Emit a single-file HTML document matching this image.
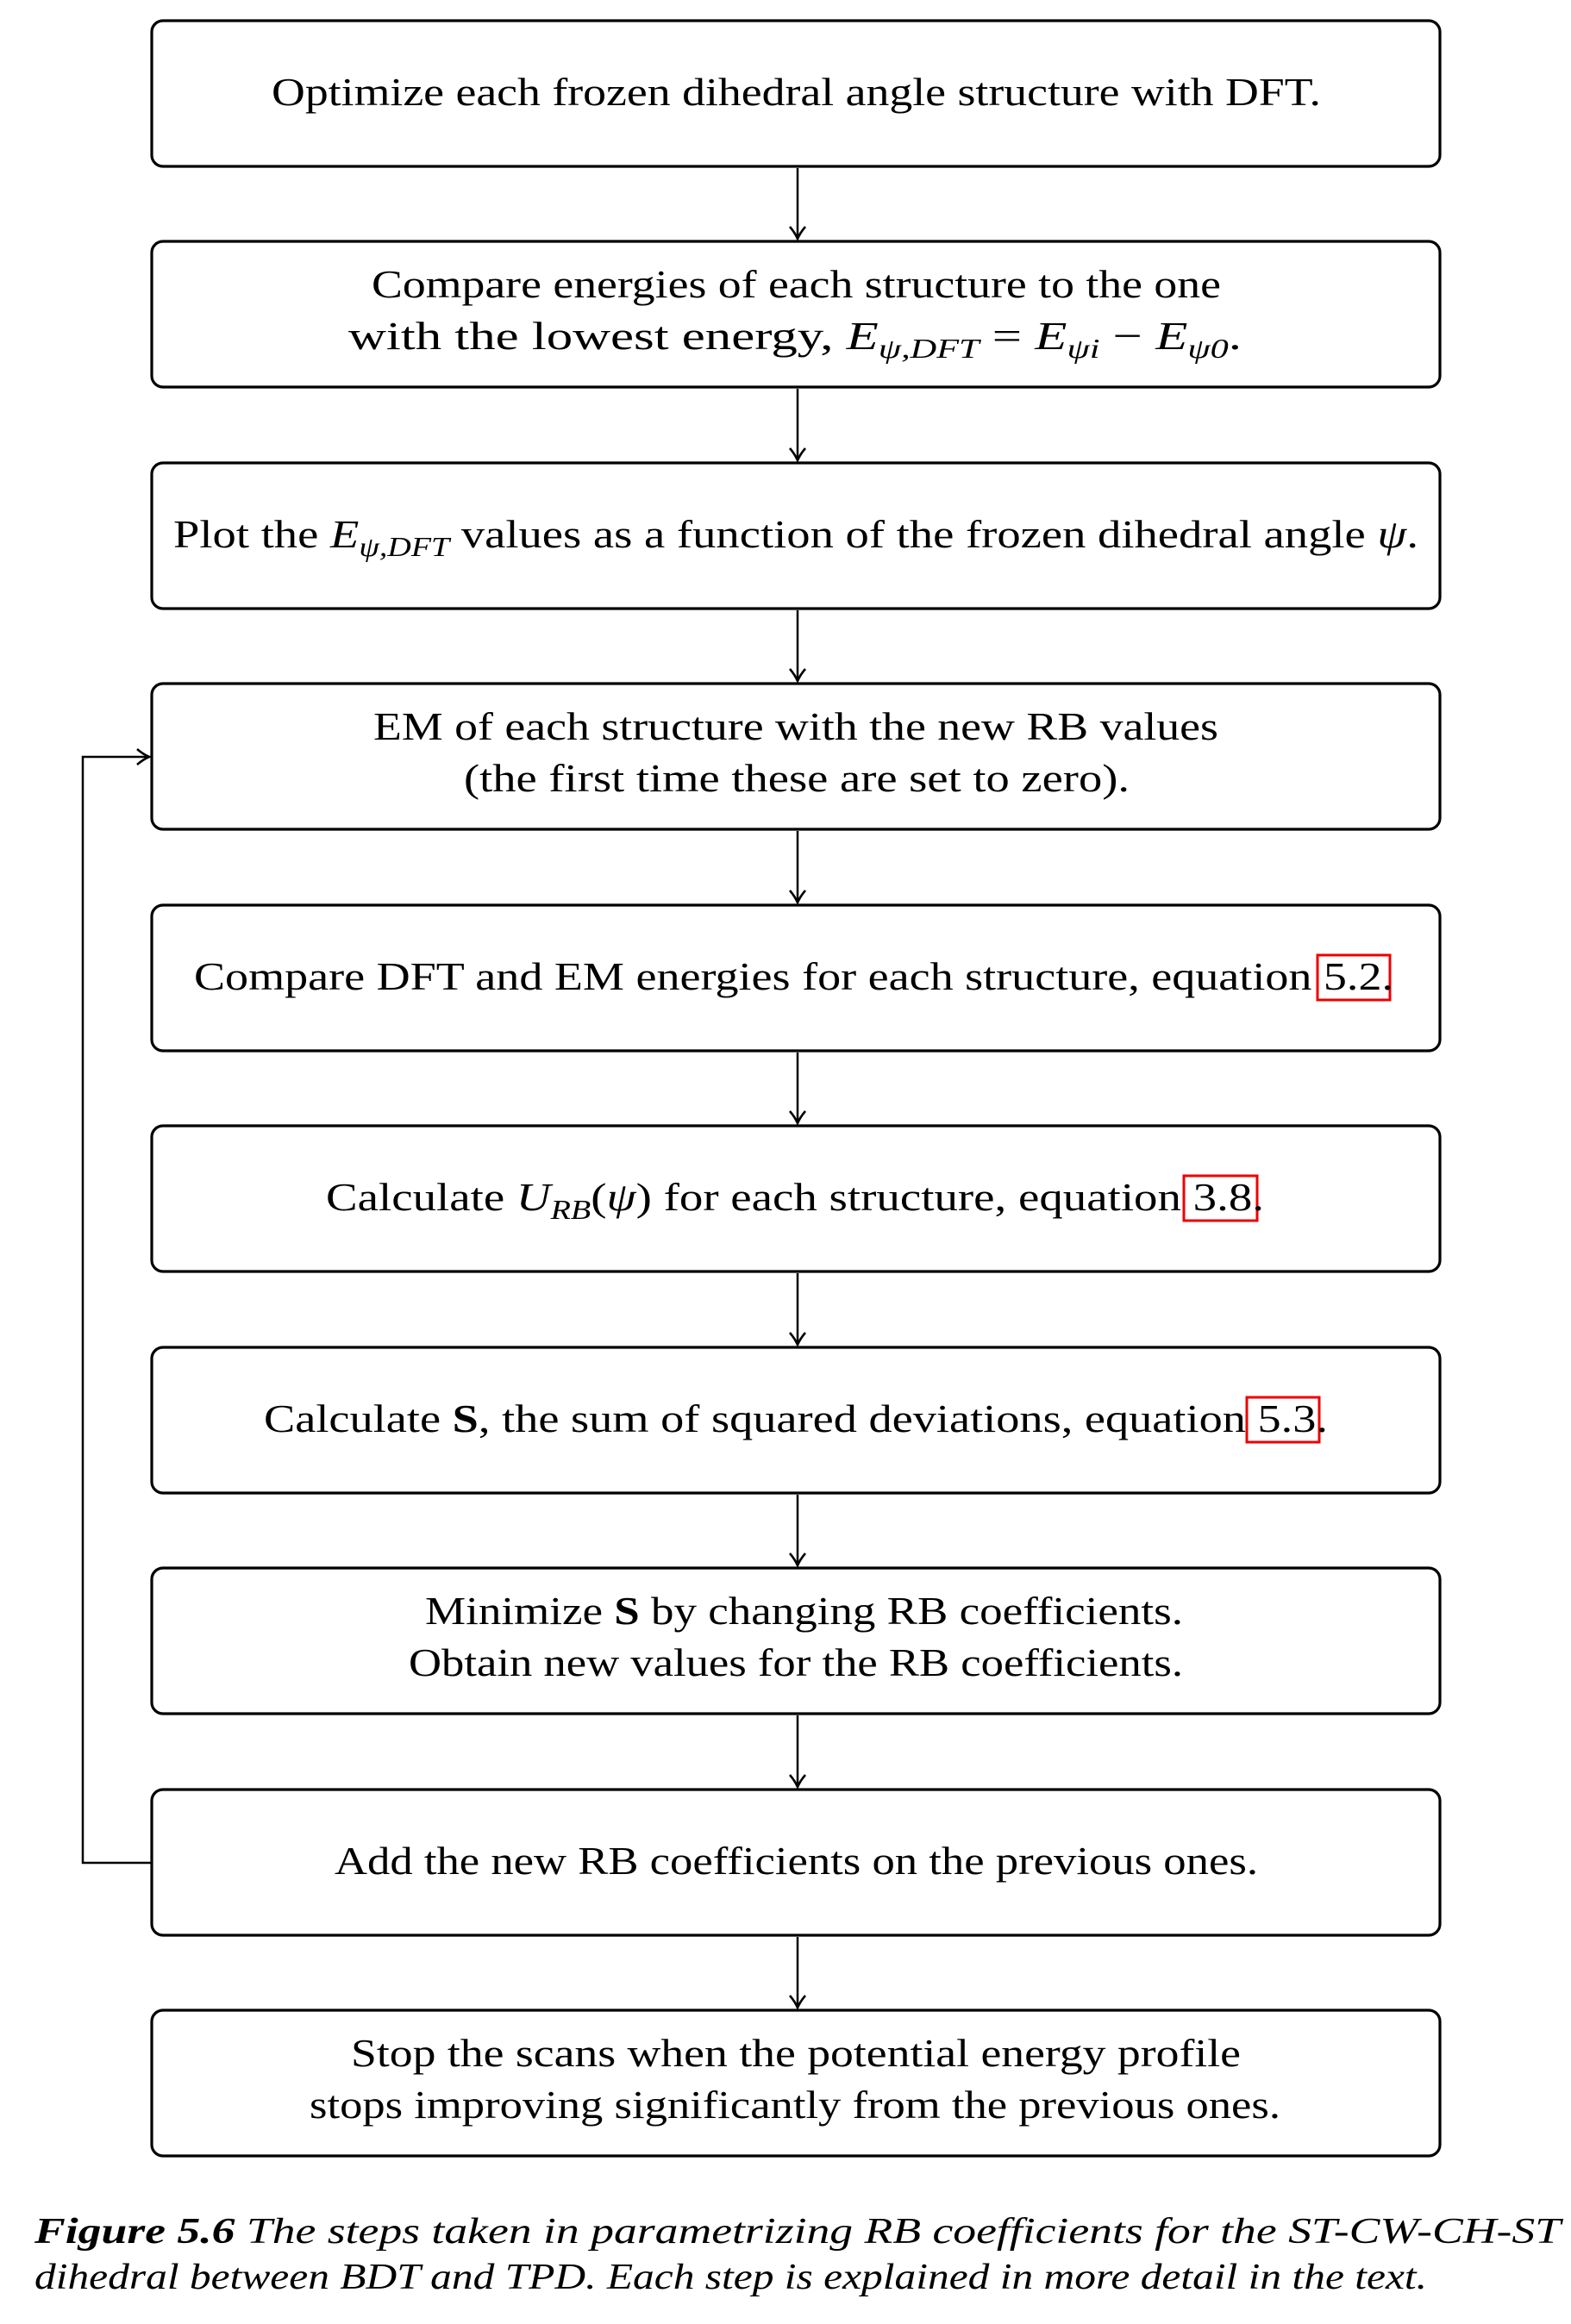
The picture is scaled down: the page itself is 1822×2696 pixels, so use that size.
<!DOCTYPE html>
<html><head><meta charset="utf-8"><style>
html,body{margin:0;padding:0;background:#fff;}
svg{display:block;}
text{font-family:"Liberation Serif",serif;font-size:46px;fill:#000;}
.it{font-style:italic;}
.sub{font-size:32px;font-style:italic;}
</style></head><body>
<svg width="1822" height="2696" viewBox="0 0 1822 2696" xmlns="http://www.w3.org/2000/svg">
<defs>
<marker id="ah" markerWidth="24" markerHeight="24" refX="16" refY="10" orient="auto" markerUnits="userSpaceOnUse">
<path d="M2,1 Q9,7 16,10 Q9,13 2,19" fill="none" stroke="#000" stroke-width="2.6"/>
</marker>
</defs>
<g fill="none" stroke="#000" stroke-width="3.2">
<rect x="176" y="24" width="1494" height="169" rx="13"/>
<rect x="176" y="280" width="1494" height="169" rx="13"/>
<rect x="176" y="537" width="1494" height="169" rx="13"/>
<rect x="176" y="793" width="1494" height="169" rx="13"/>
<rect x="176" y="1050" width="1494" height="169" rx="13"/>
<rect x="176" y="1306" width="1494" height="169" rx="13"/>
<rect x="176" y="1563" width="1494" height="169" rx="13"/>
<rect x="176" y="1819" width="1494" height="169" rx="13"/>
<rect x="176" y="2076" width="1494" height="169" rx="13"/>
<rect x="176" y="2332" width="1494" height="169" rx="13"/>
</g>
<g stroke="#000" stroke-width="2.5" fill="none">
<line x1="925" y1="195" x2="925" y2="277" marker-end="url(#ah)"/>
<line x1="925" y1="451" x2="925" y2="534" marker-end="url(#ah)"/>
<line x1="925" y1="708" x2="925" y2="790" marker-end="url(#ah)"/>
<line x1="925" y1="964" x2="925" y2="1047" marker-end="url(#ah)"/>
<line x1="925" y1="1221" x2="925" y2="1303" marker-end="url(#ah)"/>
<line x1="925" y1="1477" x2="925" y2="1560" marker-end="url(#ah)"/>
<line x1="925" y1="1734" x2="925" y2="1816" marker-end="url(#ah)"/>
<line x1="925" y1="1990" x2="925" y2="2073" marker-end="url(#ah)"/>
<line x1="925" y1="2247" x2="925" y2="2329" marker-end="url(#ah)"/>
<polyline points="175,2161 96,2161 96,878 173,878" marker-end="url(#ah)"/>
</g>
<g fill="none" stroke="#e00" stroke-width="3">
<rect x="1528" y="1108" width="84" height="52"/>
<rect x="1373" y="1364" width="85" height="52"/>
<rect x="1446" y="1621" width="84" height="52"/>
</g>
<text x="315" y="122" textLength="1217" lengthAdjust="spacingAndGlyphs">Optimize each frozen dihedral angle structure with DFT.</text>
<text x="431" y="345" textLength="985" lengthAdjust="spacingAndGlyphs">Compare energies of each structure to the one</text>
<text x="404" y="405" textLength="1036" lengthAdjust="spacingAndGlyphs">with the lowest energy, <tspan class="it">E</tspan><tspan class="sub" dy="10">ψ,DFT</tspan><tspan dy="-10">  =  </tspan><tspan class="it">E</tspan><tspan class="sub" dy="10">ψi</tspan><tspan dy="-10"> − </tspan><tspan class="it">E</tspan><tspan class="sub" dy="10">ψ0</tspan><tspan dy="-10">.</tspan></text>
<text x="201" y="635" textLength="1444" lengthAdjust="spacingAndGlyphs">Plot the <tspan class="it">E</tspan><tspan class="sub" dy="10">ψ,DFT</tspan><tspan dy="-10"> values as a function of the frozen dihedral angle </tspan><tspan class="it">ψ</tspan>.</text>
<text x="433" y="858" textLength="980" lengthAdjust="spacingAndGlyphs">EM of each structure with the new RB values</text>
<text x="538" y="918" textLength="772" lengthAdjust="spacingAndGlyphs">(the first time these are set to zero).</text>
<text x="225" y="1148" textLength="1391" lengthAdjust="spacingAndGlyphs">Compare DFT and EM energies for each structure, equation  5.2.</text>
<text x="378" y="1404" textLength="1088" lengthAdjust="spacingAndGlyphs">Calculate <tspan class="it">U</tspan><tspan class="sub" dy="10">RB</tspan><tspan dy="-10">(</tspan><tspan class="it">ψ</tspan>) for each structure, equation  3.8.</text>
<text x="306" y="1661" textLength="1234" lengthAdjust="spacingAndGlyphs">Calculate <tspan font-weight="bold">S</tspan>, the sum of squared deviations, equation  5.3.</text>
<text x="493" y="1884" textLength="879" lengthAdjust="spacingAndGlyphs">Minimize <tspan font-weight="bold">S</tspan> by changing RB coefficients.</text>
<text x="474" y="1944" textLength="898" lengthAdjust="spacingAndGlyphs">Obtain new values for the RB coefficients.</text>
<text x="388" y="2174" textLength="1071" lengthAdjust="spacingAndGlyphs">Add the new RB coefficients on the previous ones.</text>
<text x="407" y="2397" textLength="1032" lengthAdjust="spacingAndGlyphs">Stop the scans when the potential energy profile</text>
<text x="359" y="2457" textLength="1126" lengthAdjust="spacingAndGlyphs">stops improving significantly from the previous ones.</text>
<text x="40" y="2602" textLength="1770" lengthAdjust="spacingAndGlyphs" style="font-style:italic;font-size:42px"><tspan font-weight="bold">Figure   5.6</tspan> The steps taken in parametrizing RB coefficients for the ST-CW-CH-ST</text>
<text x="40" y="2655" textLength="1615" lengthAdjust="spacingAndGlyphs" style="font-style:italic;font-size:42px">dihedral between BDT and TPD. Each step is explained in more detail in the text.</text>
</svg>
</body></html>
